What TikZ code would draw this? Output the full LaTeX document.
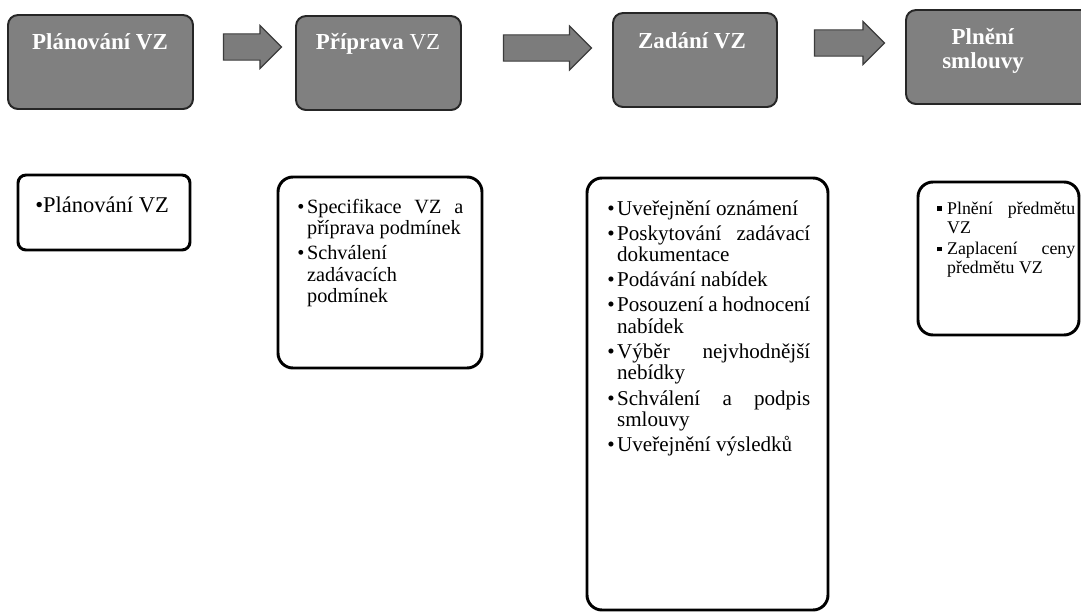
\documentclass[tikz,border=0pt]{standalone}
\usepackage{fontspec}
\setmainfont{Liberation Serif}
\usepackage{tikz}
\usetikzlibrary{shapes.arrows,positioning}
\definecolor{boxgray}{RGB}{128,128,128}
\definecolor{arrowgray}{RGB}{124,124,124}
\definecolor{edgegray}{RGB}{60,60,60}
\newcommand{\bullitem}{\par\hangindent=7pt\hangafter=1\noindent\makebox[7pt][l]{\textbullet}}
\newcommand{\sqitem}{\par\hangindent=7pt\hangafter=1\noindent\makebox[7pt][l]{\rule[0.2em]{0.25em}{0.25em}}}

\begin{document}
\begin{tikzpicture}[
        x=0.025cm, y=-0.025cm,
        boxsize/.style 2 args={minimum width=#1*0.025cm, minimum height=#2*0.025cm},
        arrowsize/.style 2 args={minimum height=#1*0.025cm, single arrow head extend=#2*0.025cm},
        phase/.style={draw=black!85, line width=1.4pt, fill=boxgray, rounded corners=0.25cm},
        phasetitle/.style={text=white, font=\fontsize{16.3pt}{16.6pt}\selectfont, align=center, inner sep=0pt},
        flow/.style={single arrow, minimum width=0pt, draw=edgegray, line width=0.8pt, fill=arrowgray, inner xsep=0pt, inner ysep=0.3125cm},
        task/.style={draw=black, line width=2.1pt, rounded corners=0.375cm},
        tasklist/.style={anchor=north west, inner sep=0pt, align=justify, font=\fontsize{14.4pt}{15.3pt}\selectfont\setlength{\parskip}{2.5pt}}
    ]
        \useasboundingbox (0,0) rectangle (1081,613);
        \clip (0,0) rectangle (1081,613);

        % Phases
        \node[phase, boxsize={185}{94}] (plan) at (100.5,62) {};
        \node[phase, boxsize={165}{94}] (prep) at (378.5,63) {};
        \node[phase, boxsize={164}{94}] (zad) at (695,60) {};
        \node[phase, boxsize={194}{94}] (plneni) at (1003,57) {};

        \node[phasetitle] (plantitle) at (100,42) {\textbf{Plánování VZ}};
        \node[phasetitle] (preptitle) at (378,44) {\textbf{Příprava} VZ};
        \node[phasetitle] (zadtitle) at (692,41) {\textbf{Zadání VZ}};
        \node[phasetitle] (plnenititle) at (983,51) {\textbf{Plnění}\\\textbf{smlouvy}};

        % Arrows
        \node[flow, arrowsize={58}{8.5}] (arr1) at (246,47) {};
        \node[flow, arrowsize={88}{9}] (arr2) at (541,48) {};
        \node[flow, arrowsize={70}{8.5}] (arr3) at (843,43) {};

        % Tasks
        \node[task, boxsize={172}{75}, rounded corners=0.2cm] (plantask) at (104,212.5) {};
        \node[task, boxsize={204}{191}] (preptask) at (380,272.5) {};
        \node[task, boxsize={241}{432}] (zadtask) at (707.5,394) {};
        \node[task, boxsize={161}{153}] (plnenitask) at (998.5,258.5) {};

        \node[tasklist, anchor=west, font=\fontsize{16pt}{16pt}\selectfont] (planlist) at (35,205) {\textbullet Plánování VZ};
        \node[tasklist, text width=4.15cm] (preplist) at (297,188) {%
            \bullitem Specifikace VZ a\linebreak příprava podmínek
            \bullitem Schválení\hfil\break zadávacích\hfil\break podmínek\par};
        \node[tasklist, text width=5.075cm, font=\fontsize{15pt}{15.3pt}\selectfont\setlength{\parskip}{2.5pt}] (zadlist) at (607,190) {%
            \bullitem Uveřejnění oznámení
            \bullitem Poskytování zadávací\linebreak dokumentace
            \bullitem Podávání nabídek
            \bullitem Posouzení a hodnocení\linebreak nabídek
            \bullitem Výběr nejvhodnější\linebreak nebídky
            \bullitem Schválení a podpis\linebreak smlouvy
            \bullitem Uveřejnění výsledků\par};
        \node[tasklist, text width=3.45cm, font=\fontsize{12.7pt}{13.5pt}\selectfont\setlength{\parskip}{2pt}] (plnenilist) at (937,192) {%
            \sqitem Plnění předmětu\linebreak VZ
            \sqitem Zaplacení ceny\linebreak předmětu VZ\par};

    \end{tikzpicture}
\end{document}
